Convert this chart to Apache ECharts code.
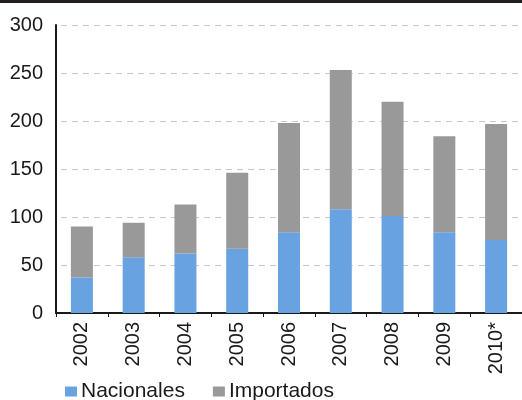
<!DOCTYPE html>
<html>
<head>
<meta charset="utf-8">
<script src="https://cdn.jsdelivr.net/npm/echarts@6/dist/echarts.min.js"></script>
<style>
  html, body { margin: 0; padding: 0; background: #fff; }
  #chart { width: 522px; height: 400px; }
</style>
</head>
<body>
<div id="chart"></div>
<script>
var years = ['2002', '2003', '2004', '2005', '2006', '2007', '2008', '2009', '2010*']
var nacionales = [37, 58, 62, 67, 84, 108, 101, 84, 76]
var importados = [53, 36, 51, 79, 114, 145, 119, 100, 121]
var yTicks = [0, 50, 100, 150, 200, 250, 300]

var myChart = echarts.init(document.querySelector('#chart'))
var font = 'Liberation Sans, Arial, sans-serif'

myChart.setOption({
  animation: false,
  textStyle: { fontFamily: font },
  graphic: [
    // barra negra de arriba
    { type: 'rect', left: 0, top: 0, shape: { width: 522, height: 3 }, style: { fill: '#231f20' } }
  ],
  grid: { left: 56, top: 25, width: 471, height: 288, containLabel: false },
  legend: {
    left: 60,
    top: 376,
    itemWidth: 12,
    itemHeight: 10,
    itemGap: 28,
    icon: 'rect',
    textStyle: { fontSize: 21, color: '#1a1a1a', fontFamily: font, padding: [0, 0, 0, -1] },
    data: ['Nacionales', 'Importados']
  },
  xAxis: {
    type: 'category',
    data: years,
    axisLine: { lineStyle: { color: '#1a1a1a', width: 2 } },
    axisTick: { show: true, length: 4, lineStyle: { color: '#1a1a1a', width: 1 } },
    axisLabel: { rotate: 90, fontSize: 20, color: '#1a1a1a', margin: 9, fontFamily: font }
  },
  yAxis: {
    type: 'value',
    min: yTicks[0],
    max: yTicks[yTicks.length - 1],
    interval: 50,
    axisLine: { show: true, lineStyle: { color: '#1a1a1a', width: 2 } },
    axisTick: { show: false },
    axisLabel: { fontSize: 20, color: '#1a1a1a', margin: 13, fontFamily: font },
    splitLine: { lineStyle: { color: '#c8c8c8', type: [6, 5], dashOffset: 6, width: 1 } }
  },
  series: [
    {
      name: 'Nacionales',
      type: 'bar',
      stack: 'total',
      barWidth: 22,
      data: nacionales,
      itemStyle: { color: '#68a2e0' }
    },
    {
      name: 'Importados',
      type: 'bar',
      stack: 'total',
      barWidth: 22,
      data: importados,
      itemStyle: { color: '#999999' }
    }
  ]
})
</script>
</body>
</html>
